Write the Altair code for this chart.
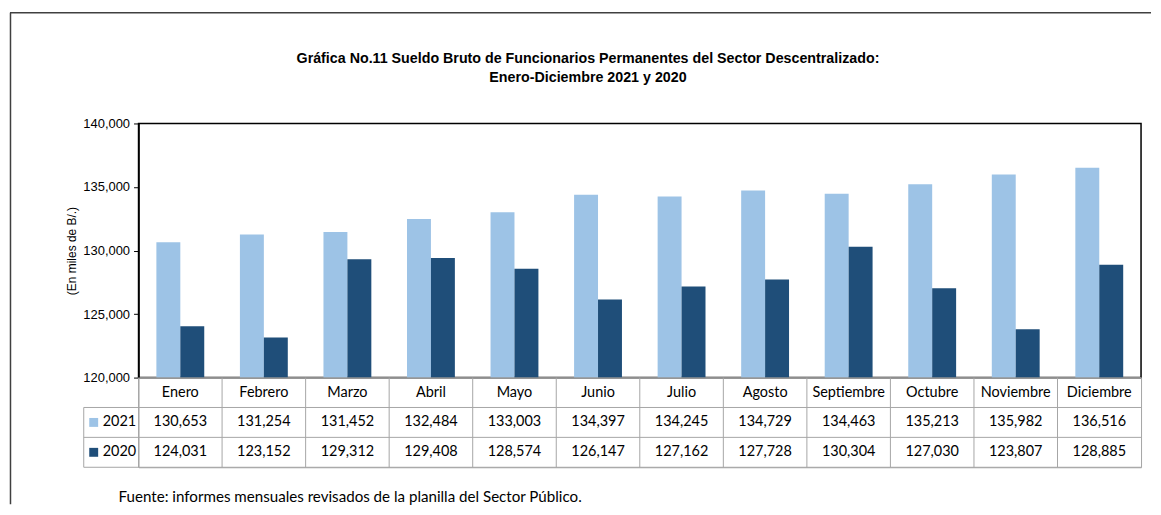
import altair as alt
import pandas as pd

meses = ["Enero", "Febrero", "Marzo", "Abril", "Mayo", "Junio", "Julio",
         "Agosto", "Septiembre", "Octubre", "Noviembre", "Diciembre"]
anios = ["2021", "2020"]
v2021 = [130653, 131254, 131452, 132484, 133003, 134397, 134245, 134729,
         134463, 135213, 135982, 136516]
v2020 = [124031, 123152, 129312, 129408, 128574, 126147, 127162, 127728,
         130304, 127030, 123807, 128885]
ticks_y = [120000, 125000, 130000, 135000, 140000]
titulo1 = "Gráfica No.11 Sueldo Bruto de Funcionarios Permanentes del Sector Descentralizado:"
titulo2 = "Enero-Diciembre 2021 y 2020"
eje_y = "(En miles de B/.)"
fuente = "Fuente: informes mensuales revisados de la planilla del Sector Público."
colores = ["#9DC3E6", "#1F4E79"]

W, H, TH = 1006, 255, 90
FONT_T = "Lato"
FS_T = 14.5
GRIS = "#a6a6a6"

barras_df = pd.DataFrame({
    "mes": meses * 2,
    "anio": ["2021"] * len(meses) + ["2020"] * len(meses),
    "valor": v2021 + v2020,
})

filas = ["mes"] + anios
tabla_rows = []
for i, m in enumerate(meses):
    tabla_rows.append({"mes": m, "fila": "mes", "texto": m})
    tabla_rows.append({"mes": m, "fila": "2021", "texto": f"{v2021[i]:,}"})
    tabla_rows.append({"mes": m, "fila": "2020", "texto": f"{v2020[i]:,}"})
tabla_df = pd.DataFrame(tabla_rows)

uno = pd.DataFrame({"k": [0]})

x_scale = alt.Scale(domain=meses, paddingInner=0.427, paddingOuter=0.2135)
color_scale = alt.Scale(domain=anios, range=colores)

bars = alt.Chart(barras_df).mark_bar().encode(
    x=alt.X("mes:N", scale=x_scale, sort=meses,
            axis=alt.Axis(labels=False, ticks=False, title=None,
                          domainColor="#7f7f7f", domainWidth=2)),
    xOffset=alt.XOffset("anio:N", scale=alt.Scale(domain=anios), sort=anios),
    y=alt.Y("valor:Q",
            scale=alt.Scale(domain=[120000, 140000], nice=False, zero=False),
            axis=alt.Axis(values=ticks_y, labelExpr="format(datum.value, ',')",
                          grid=False, title=eje_y,
                          labelFont="Liberation Sans", labelFontSize=13,
                          labelColor="black", labelPadding=4,
                          tickColor="black", tickSize=5,
                          domainColor="black", domainWidth=1.5,
                          titleFont="Liberation Sans", titleFontSize=12,
                          titleFontWeight="normal", titleColor="black",
                          titlePadding=4)),
    y2=alt.datum(120000),
    color=alt.Color("anio:N", scale=color_scale, legend=None),
)

borde_sup = alt.Chart(uno).mark_rule(color="#404040", strokeWidth=1.5).encode(
    x=alt.value(-129), x2=alt.value(1016), y=alt.value(-111))
borde_izq = alt.Chart(uno).mark_rule(color="#404040", strokeWidth=1.5).encode(
    x=alt.value(-128.5), y=alt.value(-111), y2=alt.value(382))

tit1 = alt.Chart(uno).mark_text(
    text=titulo1, font="Liberation Sans", fontWeight="bold", fontSize=14.3,
    align="center", baseline="alphabetic", color="black").encode(
    x=alt.value(451), y=alt.value(-61))
tit2 = alt.Chart(uno).mark_text(
    text=titulo2, font="Liberation Sans", fontWeight="bold", fontSize=14.3,
    align="center", baseline="alphabetic", color="black").encode(
    x=alt.value(451), y=alt.value(-42))

top = alt.layer(bars, borde_sup, borde_izq, tit1, tit2).properties(
    width=W, height=H,
    view=alt.ViewBackground(stroke="black", strokeWidth=1.5))

xt_scale = alt.Scale(domain=meses, paddingInner=0, paddingOuter=0)
yt_scale = alt.Scale(domain=filas, paddingInner=0, paddingOuter=0)

texto = alt.Chart(tabla_df).mark_text(font=FONT_T, fontSize=FS_T, color="black").encode(
    x=alt.X("mes:N", scale=xt_scale, sort=meses, axis=None),
    y=alt.Y("fila:N", scale=yt_scale, sort=filas, axis=None),
    text="texto:N",
)

vlin = alt.Chart(pd.DataFrame({"mes": meses})).mark_rule(color=GRIS, strokeWidth=1).encode(
    x=alt.X("mes:N", scale=xt_scale, sort=meses, axis=None, bandPosition=0),
    y=alt.value(0), y2=alt.value(TH))

hlin = alt.Chart(pd.DataFrame({"fila": anios})).mark_rule(color=GRIS, strokeWidth=1).encode(
    y=alt.Y("fila:N", scale=yt_scale, sort=filas, axis=None, bandPosition=0),
    x=alt.value(-55), x2=alt.value(W))

hbot = alt.Chart(uno).mark_rule(color=GRIS, strokeWidth=1).encode(
    y=alt.value(TH), x=alt.value(-55), x2=alt.value(W))

vizq = alt.Chart(pd.DataFrame({"fila": ["2021"]})).mark_rule(color=GRIS, strokeWidth=1).encode(
    y=alt.Y("fila:N", scale=yt_scale, sort=filas, axis=None, bandPosition=0),
    y2=alt.value(TH), x=alt.value(-55))

anio_df = pd.DataFrame({"fila": anios})
cuadro = alt.Chart(anio_df).mark_square(size=80, opacity=1).encode(
    x=alt.value(-45),
    y=alt.Y("fila:N", scale=yt_scale, sort=filas, axis=None),
    color=alt.Color("fila:N", scale=color_scale, legend=None),
)
anio_txt = alt.Chart(anio_df).mark_text(font=FONT_T, fontSize=FS_T, color="black", align="left").encode(
    x=alt.value(-36),
    y=alt.Y("fila:N", scale=yt_scale, sort=filas, axis=None),
    text="fila:N",
)

nota = alt.Chart(uno).mark_text(
    text=fuente, font=FONT_T, fontSize=15.2, color="black",
    align="left", baseline="alphabetic").encode(
    x=alt.value(-20), y=alt.value(125))

tabla = alt.layer(vlin, hlin, hbot, vizq, cuadro, anio_txt, texto, nota).properties(
    width=W, height=TH,
    view=alt.ViewBackground(stroke=GRIS, strokeWidth=1))

chart = alt.vconcat(top, tabla, spacing=0, bounds="flush").properties(
    padding={"left": 0, "top": 2, "right": 0, "bottom": 0},
    background="white",
)

chart.save("out.html", embed_options={"renderer": "svg", "actions": False})
